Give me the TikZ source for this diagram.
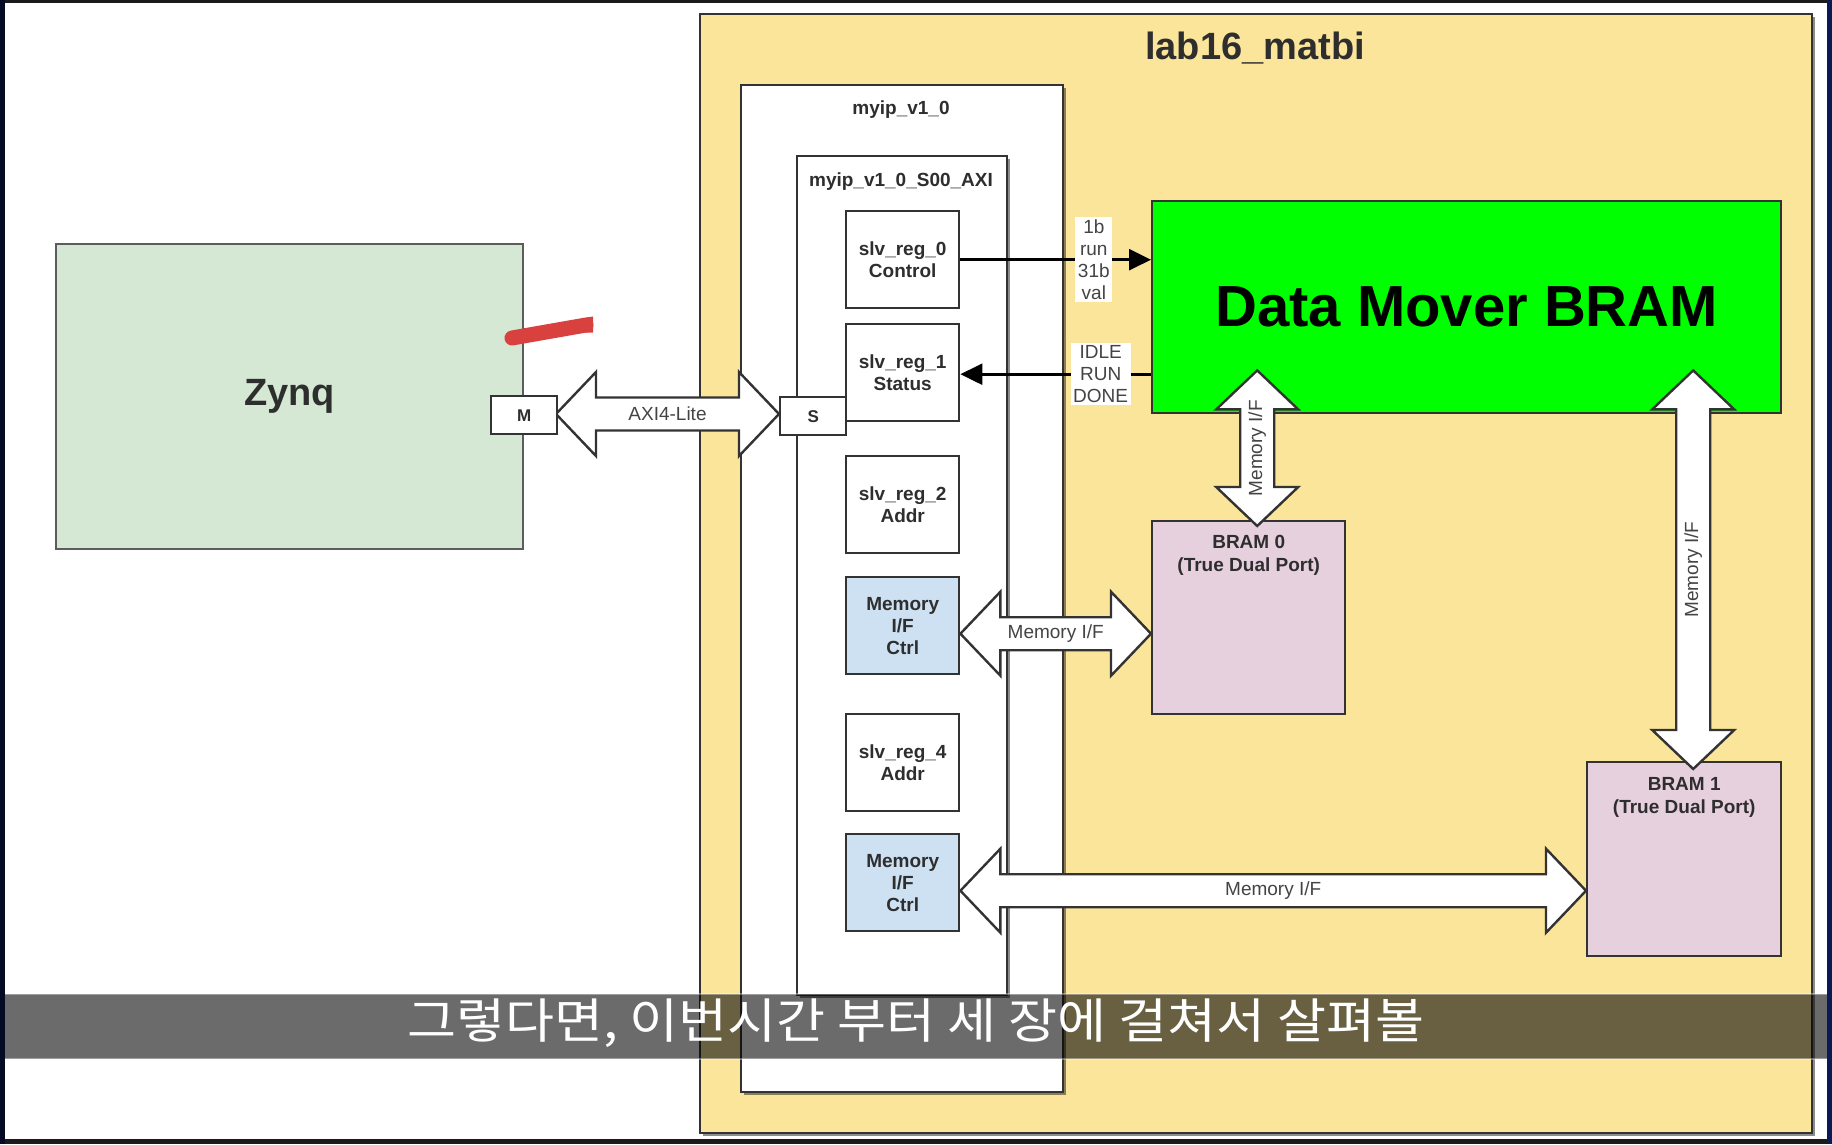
\documentclass[tikz,border=0pt]{standalone}
\usepackage{fontspec}
\setmainfont{Liberation Sans}
\newfontfamily\krfont{Noto Sans CJK KR}
\usetikzlibrary{arrows.meta,calc,shadows}
\definecolor{ybg}{HTML}{FAE59B}
\definecolor{zgreen}{HTML}{D5E8D4}
\definecolor{cblue}{HTML}{CDE1F2}
\definecolor{cpink}{HTML}{E6D0DE}
\definecolor{dmgreen}{HTML}{00FF00}
\definecolor{bd}{HTML}{333333}
\definecolor{tx}{HTML}{2E2E2E}
\definecolor{lt}{HTML}{444444}
\definecolor{redmark}{HTML}{D9413E}
\definecolor{frameA}{HTML}{1B1B1B}
\definecolor{frameL}{HTML}{060B24}
\definecolor{frameR}{HTML}{0B1A55}

\newcommand\hdblarrow[3]{%
  \draw[barrow] let \p1=#1, \p2=#2 in
    (\x1,\y1) -- (\x1+40pt,\y1+42pt) -- (\x1+40pt,\y1+16.5pt) -- (\x2-40pt,\y1+16.5pt)
    -- (\x2-40pt,\y1+42pt) -- (\x2,\y1) -- (\x2-40pt,\y1-42pt) -- (\x2-40pt,\y1-16.5pt)
    -- (\x1+40pt,\y1-16.5pt) -- (\x1+40pt,\y1-42pt) -- cycle
    node[arrlbl] at ({(\x1+\x2)/2},\y1) {#3};}
\newcommand\vdblarrow[3]{%
  \draw[barrow] let \p1=#1, \p2=#2 in
    (\x1,\y2+44pt) -- (\x1+41pt,\y2+5pt) -- (\x1+17pt,\y2+5pt) -- (\x1+17pt,\y1+39pt)
    -- (\x1+41pt,\y1+39pt) -- (\x1,\y1) -- (\x1-41pt,\y1+39pt) -- (\x1-17pt,\y1+39pt)
    -- (\x1-17pt,\y2+5pt) -- (\x1-41pt,\y2+5pt) -- cycle
    node[arrlbl, rotate=90] at (\x1,{(\y1+\y2+44pt)/2}) {#3};}

\begin{document}
\begin{tikzpicture}[x=1pt,y=-1pt,
  box/.style={draw=bd, line width=2.4pt, anchor=north west, inner sep=0pt, align=center, text=tx},
  shad/.style={drop shadow={shadow xshift=2.5pt, shadow yshift=-2.5pt, fill=black, opacity=0.45}},
  reg/.style={box, fill=white, minimum width=113, minimum height=97,
      font=\bfseries\fontsize{19}{22}\selectfont},
  ctrl/.style={reg, fill=cblue},
  port/.style={box, fill=white, minimum width=66, minimum height=38,
      font=\bfseries\fontsize{17}{20}\selectfont},
  ttl/.style={inner sep=0pt, text=tx, font=\bfseries\fontsize{19}{22}\selectfont},
  btxt/.style={inner sep=0pt, align=center, text=tx, font=\bfseries\fontsize{19}{23}\selectfont},
  barrow/.style={draw=bd, fill=white, line width=2.4pt, line join=miter},
  arrlbl/.style={inner sep=0pt, text=lt, font=\fontsize{19}{22}\selectfont},
  sig/.style={draw=black, line width=2.6pt, -{Triangle[length=22pt,width=21pt]}},
  lblbox/.style={fill=white, inner sep=2.5pt, align=center, text=lt, font=\fontsize{19}{22}\selectfont}]

\useasboundingbox (0,0) rectangle (1832,1144);
\fill[white] (0,0) rectangle (1832,1144);

% Zynq
\node[box, fill=zgreen, draw=bd!80, minimum width=467, minimum height=305,
      font=\bfseries\fontsize{38}{40}\selectfont] (zynq) at (55,243) {Zynq};

% containers
\node[box, fill=ybg, shad, minimum width=1112, minimum height=1119] (lab) at (699,13) {};
\node[ttl, font=\bfseries\fontsize{38}{40}\selectfont] (labttl) at (1255,48) {lab16\_matbi};
\node[box, fill=white, shad, minimum width=322, minimum height=1007] (myip) at (740,84) {};
\node[ttl] (myipttl) at (901,110) {myip\_v1\_0};
\node[box, fill=white, shad, minimum width=210, minimum height=839] (s00) at (796,155) {};
\node[ttl] (s00ttl) at (901,182) {myip\_v1\_0\_S00\_AXI};

% registers
\node[reg] (reg0) at (845,210) {slv\_reg\_0\\Control};
\node[reg] (reg1) at (845,323) {slv\_reg\_1\\Status};
\node[reg] (reg2) at (845,455) {slv\_reg\_2\\Addr};
\node[ctrl] (ctrl1) at (845,576) {Memory\\I/F\\Ctrl};
\node[reg] (reg4) at (845,713) {slv\_reg\_4\\Addr};
\node[ctrl] (ctrl2) at (845,833) {Memory\\I/F\\Ctrl};

% data mover and BRAMs
\node[box, fill=dmgreen, minimum width=629, minimum height=212,
      font=\bfseries\fontsize{58}{60}\selectfont, text=black] (dm) at (1151,200) {Data Mover BRAM};
\node[box, fill=cpink, minimum width=193, minimum height=193] (bram0) at (1151,520) {};
\node[btxt] (bram0t) at ([yshift=-35pt]bram0.north) {BRAM 0\\(True Dual Port)};
\node[box, fill=cpink, minimum width=194, minimum height=194] (bram1) at (1586,761) {};
\node[btxt] (bram1t) at ([yshift=-36pt]bram1.north) {BRAM 1\\(True Dual Port)};

% control / status signals
\draw[sig] (reg0.east) -- (reg0.east -| dm.west)
   node[lblbox, pos=0.70] (ctrllbl) {1b\\run\\31b\\val};
\draw[sig] ([yshift=-1.5pt]reg1.east -| dm.west) -- ([yshift=-1.5pt]reg1.east)
   node[lblbox, pos=0.264] (statlbl) {IDLE\\RUN\\DONE};

% ports (AXI arrow drawn between them, ports on top)
\path (490,395) coordinate (mnw) (779,396) coordinate (snw);
\hdblarrow{([shift={(66pt,-19pt)}]mnw)}{([shift={(0pt,-19pt)}]snw)}{AXI4-Lite}
\node[port] (mport) at (mnw) {M};
\node[port] (sport) at (snw) {S};

% block arrows
\hdblarrow{([yshift=-8pt]ctrl1.east)}{(bram0.west)}{Memory I/F}
\hdblarrow{([yshift=-8pt]ctrl2.east)}{(bram1.west)}{Memory I/F}
\vdblarrow{([xshift=8.5pt,yshift=-6pt]bram0.north)}{(dm.south)}{Memory I/F}
\vdblarrow{([xshift=9pt,yshift=-8pt]bram1.north)}{(dm.south)}{Memory I/F}

% red pen mark
\draw[redmark, line width=15pt, line cap=round] (512,338) -- (586,325);
\fill[redmark] (586,317.5) -- (593,316.5) -- (593,332.5) -- (586,332.5) -- cycle;

% subtitle bar
\fill[black, opacity=0.58] (5,994) rectangle (1827,1059);
\draw[white, opacity=0.35, line width=1.5pt] (5,994) -- (1827,994) (5,1059) -- (1827,1059);
\node[inner sep=0pt, text=white, font=\krfont\fontsize{48}{48}\selectfont, xscale=1.11] (subt) at (916,1023)
  {그렇다면, 이번시간 부터 세 장에 걸쳐서 살펴볼};

% screen frame
\fill[frameA] (0,0) rectangle (1832,3);
\fill[frameA] (0,1139) rectangle (1832,1144);
\fill[frameL] (0,0) rectangle (5,1144);
\fill[frameR] (1827,0) rectangle (1832,1144);
\end{tikzpicture}
\end{document}
